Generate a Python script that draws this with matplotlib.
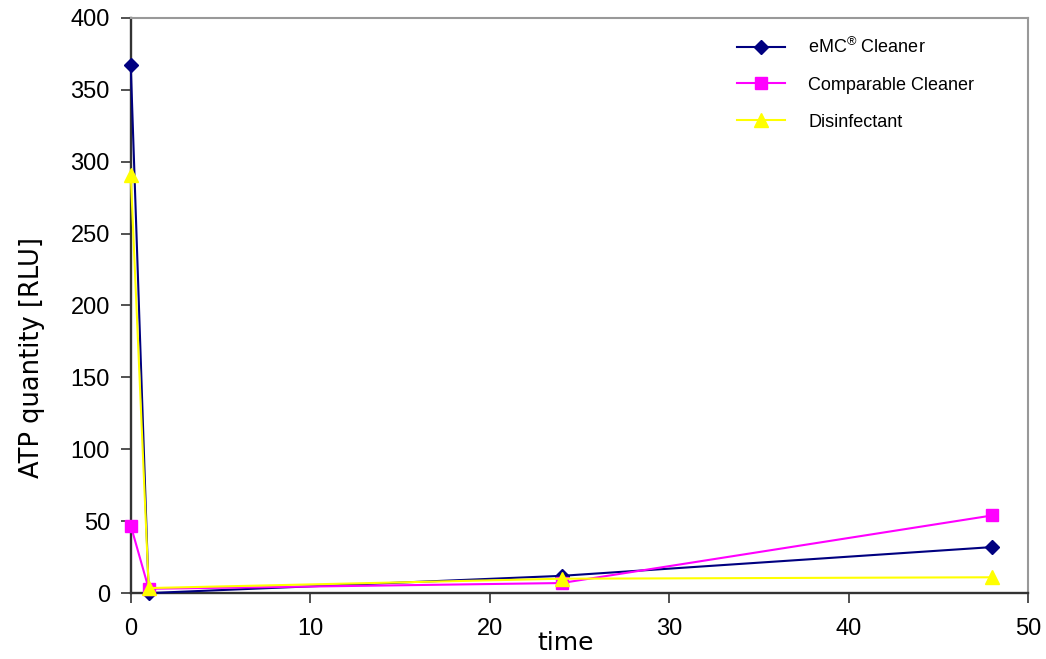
import matplotlib
matplotlib.use('Agg')
import matplotlib.pyplot as plt

plt.rcParams['font.family'] = ['Liberation Sans', 'DejaVu Sans']

time = [0, 1, 24, 48]
emc = [367, 0, 12, 32]
comparable = [47, 3, 7, 54]
disinfectant = [291, 3.5, 10, 11]

fig = plt.figure(figsize=(10.46, 6.59), dpi=100)
ax = fig.add_axes([0.125, 0.100, 0.858, 0.873])

ax.plot(time, emc, color='#000080', marker='D', markersize=7.5, lw=1.5,
        label='eMC$^{\\mathregular{®}}$ Cleaner', clip_on=False, zorder=3)
ax.plot(time, comparable, color='#ff00ff', marker='s', markersize=8, lw=1.5,
        label='Comparable Cleaner', clip_on=False, zorder=4)
ax.plot(time, disinfectant, color='#ffff00', marker='^', markersize=10, lw=1.5,
        label='Disinfectant', clip_on=False, zorder=5)

ax.set_xlim(0, 50)
ax.set_ylim(0, 400)
ax.set_xticks(range(0, 51, 10))
ax.set_yticks(range(0, 401, 50))
ax.tick_params(labelsize=17, length=7, width=1.2, color='#333333')
ax.tick_params(axis='x', pad=11)
ax.tick_params(axis='y', pad=8)

for s in ['left', 'bottom']:
    ax.spines[s].set_color('#333333')
    ax.spines[s].set_linewidth(1.7)
for s in ['top', 'right']:
    ax.spines[s].set_color('#999999')
    ax.spines[s].set_linewidth(1.5)

ax.set_ylabel('ATP quantity [RLU]', fontsize=18.5, family='DejaVu Sans')
ax.yaxis.set_label_coords(-0.096, 0.41)
ax.set_xlabel('time', fontsize=18, family='DejaVu Sans')
ax.xaxis.set_label_coords(0.485, -0.066)

leg = ax.legend(loc='upper left', bbox_to_anchor=(0.6756, 0.967), frameon=False,
                borderaxespad=0, borderpad=0, fontsize=13,
                handlelength=2.67, labelspacing=1.1, handletextpad=1.28)

fig.savefig('out.png', dpi=100)
